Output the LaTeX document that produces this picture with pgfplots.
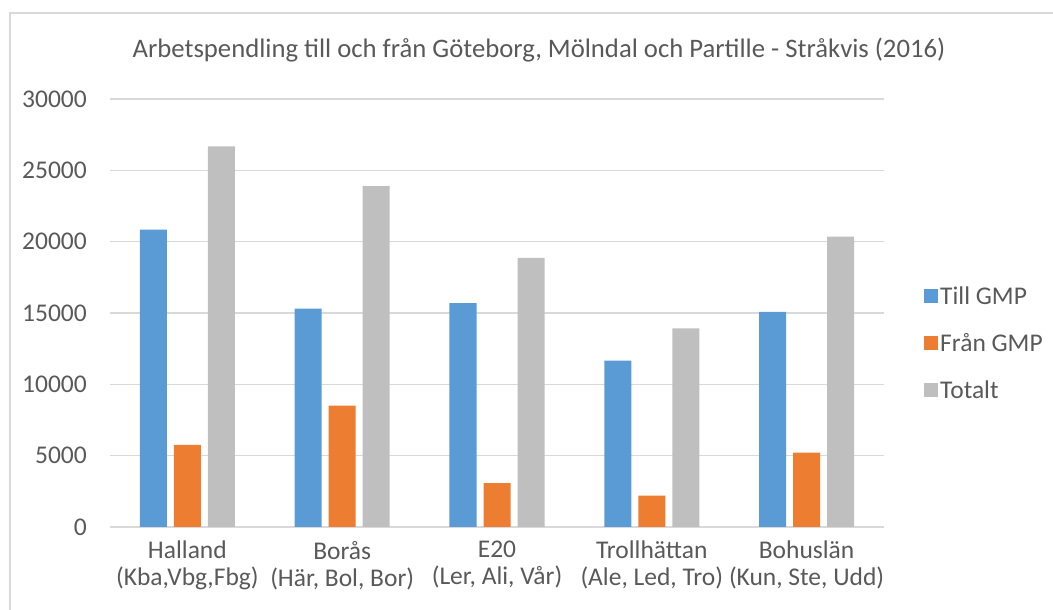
\documentclass[border=0pt]{standalone}
\usepackage{pgfplots}
\pgfplotsset{compat=1.18}
\usepackage{fontspec}
\setmainfont{Carlito}

\definecolor{till}{HTML}{5B9BD5}
\definecolor{fran}{HTML}{ED7D31}
\definecolor{tot}{HTML}{BFBFBF}
\definecolor{txt}{HTML}{595959}
\definecolor{gridc}{HTML}{D9D9D9}

\begin{document}
\begin{tikzpicture}
\useasboundingbox (0pt,0pt) rectangle (1053pt,610pt);
\draw[gridc, line width=1.2pt] (10pt,-10pt) -- (10pt,597pt) -- (1070pt,597pt);
\node[anchor=base, font=\fontsize{26.7}{30}\selectfont, text=txt, inner sep=0pt]
  at (539pt,552pt) {Arbetspendling till och från Göteborg, Mölndal och Partille - Stråkvis (2016)};

\begin{axis}[
  at={(110pt,83pt)}, anchor=south west,
  scale only axis, width=774pt, height=428pt,
  ybar=7pt, bar width=27pt,
  xmin=-0.5, xmax=4.5, ymin=0, ymax=30000,
  xtick=data,
  xticklabels={{Halland\\(Kba,Vbg,Fbg)},{Borås\\(Här, Bol, Bor)},{E20\\(Ler, Ali, Vår)},{Trollhättan\\(Ale, Led, Tro)},{Bohuslän\\(Kun, Ste, Udd)}},
  ytick={0,5000,...,30000},
  scaled y ticks=false,
  /pgf/number format/1000 sep={},
  /pgf/number format/assume math mode=true,
  ymajorgrids, grid style={gridc, line width=1.2pt},
  axis line style={draw=none},
  major tick length=0pt,
  tick label style={font=\fontsize{25.5}{27}\selectfont, text=txt},
  yticklabel style={inner sep=0pt, xshift=-23pt},
  xticklabel style={align=center, inner sep=0pt, yshift=-14pt},
  legend style={at={(axis description cs:1,0.42)}, anchor=west, xshift=37pt,
    draw=none, fill=none, font=\fontsize{25.5}{27}\selectfont, text=txt,
    row sep=24pt, nodes={inner sep=2pt, text height=13pt, text depth=5pt}},
  legend cell align=left,
  legend image code/.code={\fill[#1] (0pt,-2pt) rectangle (14pt,12pt);},
]
\addplot[fill=till, draw=none] coordinates {(0,20850) (1,15300) (2,15700) (3,11670) (4,15080)};
\addplot[fill=fran, draw=none] coordinates {(0,5750) (1,8500) (2,3080) (3,2200) (4,5220)};
\addplot[fill=tot, draw=none] coordinates {(0,26680) (1,23900) (2,18860) (3,13930) (4,20360)};
\legend{Till GMP, Från GMP, Totalt}
\end{axis}
\end{tikzpicture}
\end{document}
